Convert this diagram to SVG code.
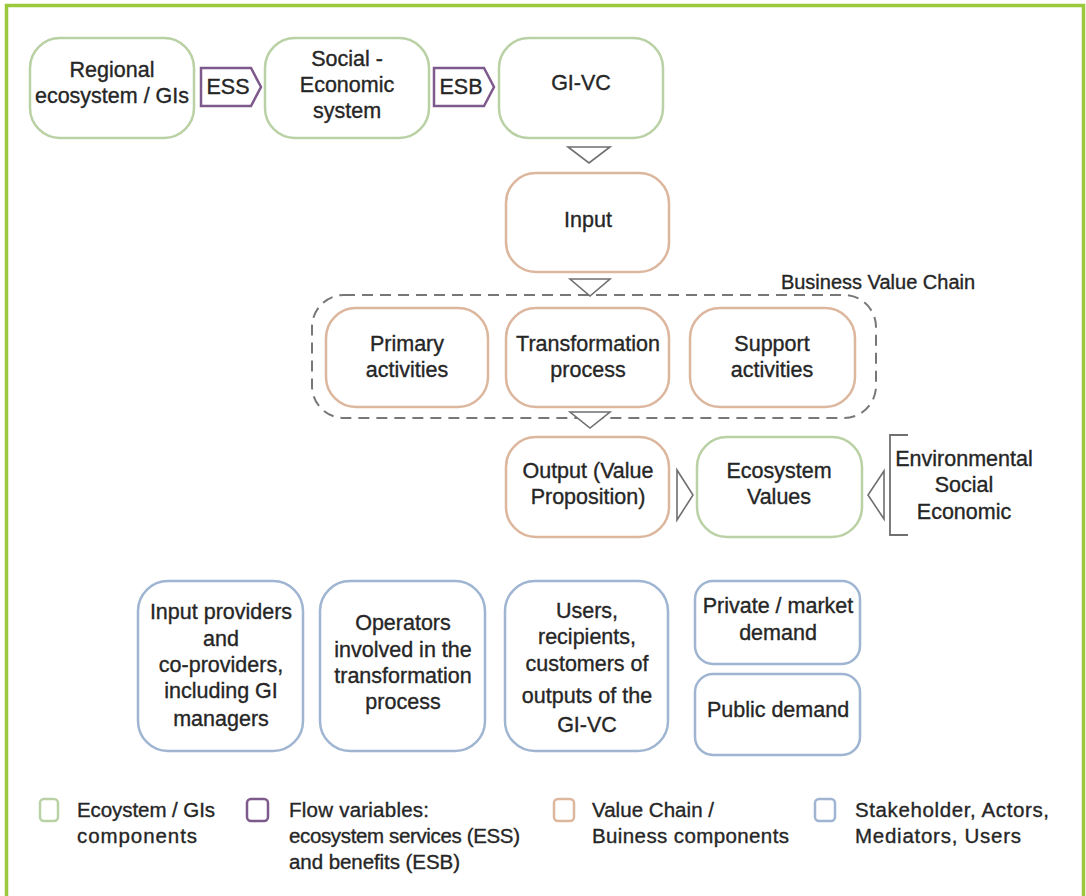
<svg xmlns="http://www.w3.org/2000/svg" width="1086" height="896" viewBox="0 0 1086 896">
<style>
text{font-family:"Liberation Sans",Arial,sans-serif;font-size:21.5px;fill:#262626;stroke:#262626;stroke-width:0.35;text-anchor:middle}
.bvct{font-size:20px}
.lg{text-anchor:start;font-size:20.5px}
.g{fill:#fff;stroke:#b9d1a4;stroke-width:2.5}
.o{fill:#fff;stroke:#dcb79e;stroke-width:2.5}
.b{fill:#fff;stroke:#9fb5d1;stroke-width:2.5}
.p{fill:#fff;stroke:#7e5a8c;stroke-width:2.5}
.tri{fill:#fff;stroke:#6f6f6f;stroke-width:1.6}
</style>
<rect x="0" y="0" width="1086" height="896" fill="#fff"/>
<path d="M6.5 900 V5.5 H1083.5 V900" fill="none" stroke="#9cc83c" stroke-width="3.5"/>

<g id="regional">
<rect class="g" x="30" y="38" width="164" height="100" rx="30"/>
<text x="112" y="77">Regional</text>
<text x="112" y="103">ecosystem / GIs</text>
</g>
<g id="ess">
<path class="p" d="M201 68 H251 L261 87 L251 106 H201 Z"/>
<text x="228" y="94">ESS</text>
</g>
<g id="socio">
<rect class="g" x="265" y="38" width="164" height="100" rx="30"/>
<text x="347" y="66">Social -</text>
<text x="347" y="92">Economic</text>
<text x="347" y="118">system</text>
</g>
<g id="esb">
<path class="p" d="M434 68 H484 L494 87 L484 106 H434 Z"/>
<text x="461" y="94">ESB</text>
</g>
<g id="givc">
<rect class="g" x="499" y="38" width="164" height="100" rx="30"/>
<text x="581" y="90">GI-VC</text>
</g>
<g id="input">
<rect class="o" x="506" y="173" width="163" height="99" rx="30"/>
<text x="588" y="227">Input</text>
</g>
<g id="bvc">
<rect x="312" y="295" width="564" height="123" rx="32" fill="none" stroke="#777" stroke-width="2" stroke-dasharray="11 7"/>
<text class="bvct" x="878" y="289">Business Value Chain</text>
</g>
<g id="primary">
<rect class="o" x="326" y="308" width="162" height="99" rx="30"/>
<text x="407" y="351">Primary</text>
<text x="407" y="377">activities</text>
</g>
<g id="transformation">
<rect class="o" x="506" y="308" width="163" height="99" rx="30"/>
<text x="588" y="351">Transformation</text>
<text x="588" y="377">process</text>
</g>
<g id="support">
<rect class="o" x="690" y="308" width="165" height="99" rx="30"/>
<text x="772" y="351">Support</text>
<text x="772" y="377">activities</text>
</g>
<g id="output">
<rect class="o" x="506" y="437" width="163" height="100" rx="30"/>
<text x="588" y="478">Output (Value</text>
<text x="588" y="504">Proposition)</text>
</g>
<g id="ecovalues">
<rect class="g" x="697" y="437" width="165" height="100" rx="30"/>
<text x="779" y="478">Ecosystem</text>
<text x="779" y="504">Values</text>
</g>
<g id="dimensions">
<text x="964" y="466">Environmental</text>
<text x="964" y="492">Social</text>
<text x="964" y="519">Economic</text>
</g>
<g id="inputproviders">
<rect class="b" x="138" y="581" width="165" height="170" rx="30"/>
<text x="221" y="619">Input providers</text>
<text x="221" y="646">and</text>
<text x="221" y="672">co-providers,</text>
<text x="221" y="698">including GI</text>
<text x="221" y="726">managers</text>
</g>
<g id="operators">
<rect class="b" x="320" y="581" width="165" height="170" rx="30"/>
<text x="403" y="630">Operators</text>
<text x="403" y="657">involved in the</text>
<text x="403" y="683">transformation</text>
<text x="403" y="709">process</text>
</g>
<g id="users">
<rect class="b" x="505" y="581" width="163" height="170" rx="30"/>
<text x="587" y="618">Users,</text>
<text x="587" y="644">recipients,</text>
<text x="587" y="671">customers of</text>
<text x="587" y="703">outputs of the</text>
<text x="587" y="732">GI-VC</text>
</g>
<g id="private">
<rect class="b" x="695" y="581" width="165" height="83" rx="18"/>
<text x="778" y="613">Private / market</text>
<text x="778" y="640">demand</text>
</g>
<g id="public">
<rect class="b" x="695" y="674" width="165" height="81" rx="18"/>
<text x="778" y="717">Public demand</text>
</g>

<g id="connectors">
<path class="tri" d="M568 147 H610 L589 163 Z"/>
<path class="tri" d="M570 279 H610 L590 296 Z"/>
<path class="tri" d="M570 412 H610 L590 428 Z"/>
<path class="tri" d="M677 470 L693 495 L677 520 Z"/>
<path class="tri" d="M884 471 L868 495 L884 519 Z"/>
<path d="M908 435 H890 V535 H908" fill="none" stroke="#6f6f6f" stroke-width="1.8"/>
</g>

<g id="legend">
<rect class="g" x="40" y="799" width="18" height="22" rx="4" stroke-width="2"/>
<text class="lg" x="77" y="817" textLength="138" lengthAdjust="spacing">Ecoystem / GIs</text>
<text class="lg" x="77" y="843" textLength="120" lengthAdjust="spacing">components</text>
<rect class="p" x="247" y="799" width="21" height="22" rx="4" stroke-width="2"/>
<text class="lg" x="289" y="817" textLength="140" lengthAdjust="spacing">Flow variables:</text>
<text class="lg" x="289" y="843" textLength="231" lengthAdjust="spacing">ecosystem services (ESS)</text>
<text class="lg" x="289" y="869" textLength="171" lengthAdjust="spacing">and benefits (ESB)</text>
<rect class="o" x="554" y="799" width="20" height="22" rx="4" stroke-width="2"/>
<text class="lg" x="592" y="817" textLength="122" lengthAdjust="spacing">Value Chain /</text>
<text class="lg" x="592" y="843" textLength="197" lengthAdjust="spacing">Buiness components</text>
<rect class="b" x="815" y="799" width="20" height="22" rx="4" stroke-width="2"/>
<text class="lg" x="855" y="817" textLength="194" lengthAdjust="spacing">Stakeholder, Actors,</text>
<text class="lg" x="855" y="843" textLength="166" lengthAdjust="spacing">Mediators, Users</text>
</g>
</svg>
